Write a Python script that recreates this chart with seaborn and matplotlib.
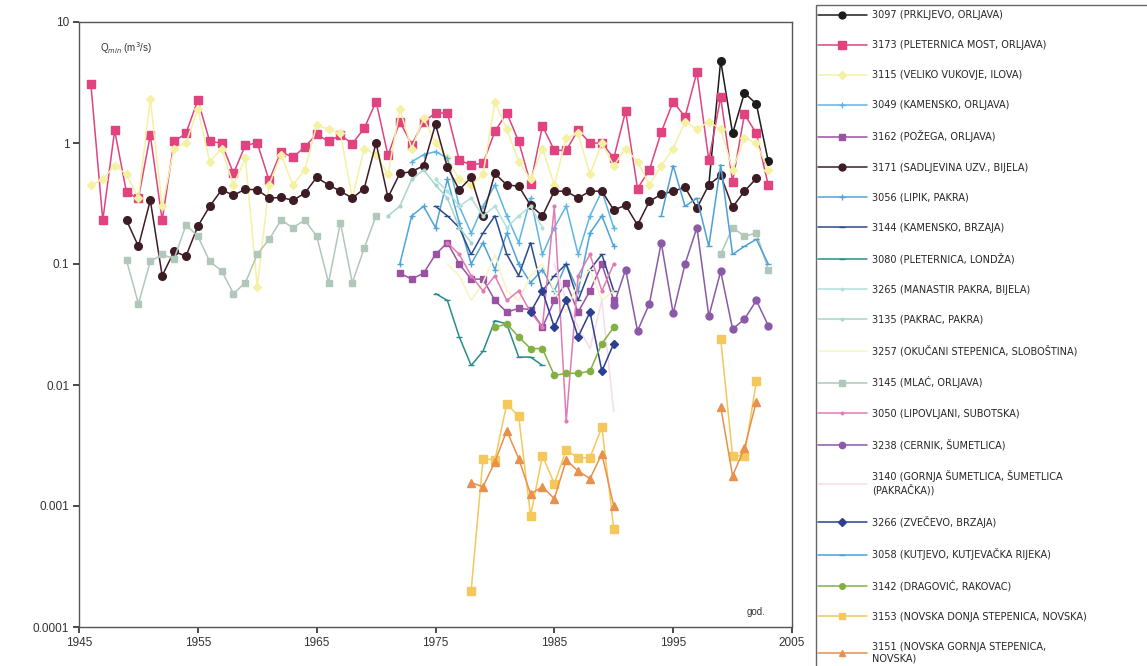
import numpy as np
import pandas as pd
import matplotlib
matplotlib.use("Agg")
import matplotlib.pyplot as plt
from matplotlib.lines import Line2D
from matplotlib.patches import Rectangle
import seaborn as sns

nan = np.nan

# Station codes, legend labels and drawing style
STATIONS = ["3097", "3173", "3115", "3049", "3162", "3171", "3056", "3144", "3080",
            "3265", "3135", "3257", "3145", "3050", "3238", "3140", "3266", "3058",
            "3142", "3153", "3151"]
LABELS = [
    "3097 (PRKLJEVO, ORLJAVA)",
    "3173 (PLETERNICA MOST, ORLJAVA)",
    "3115 (VELIKO VUKOVJE, ILOVA)",
    "3049 (KAMENSKO, ORLJAVA)",
    "3162 (POŽEGA, ORLJAVA)",
    "3171 (SADLJEVINA UZV., BIJELA)",
    "3056 (LIPIK, PAKRA)",
    "3144 (KAMENSKO, BRZAJA)",
    "3080 (PLETERNICA, LONDŽA)",
    "3265 (MANASTIR PAKRA, BIJELA)",
    "3135 (PAKRAC, PAKRA)",
    "3257 (OKUČANI STEPENICA, SLOBOŠTINA)",
    "3145 (MLAĆ, ORLJAVA)",
    "3050 (LIPOVLJANI, SUBOTSKA)",
    "3238 (CERNIK, ŠUMETLICA)",
    "3140 (GORNJA ŠUMETLICA, ŠUMETLICA\n(PAKRAČKA))",
    "3266 (ZVEČEVO, BRZAJA)",
    "3058 (KUTJEVO, KUTJEVAČKA RIJEKA)",
    "3142 (DRAGOVIĆ, RAKOVAC)",
    "3153 (NOVSKA DONJA STEPENICA, NOVSKA)",
    "3151 (NOVSKA GORNJA STEPENICA,\nNOVSKA)",
]
COLORS = ["#1c1c1c", "#e0437f", "#f5f1a2", "#5db6e2", "#9a52a2", "#3e1c24", "#4fa4d8",
          "#2b4b8c", "#2a8c8c", "#b2e0dc", "#a6d6cc", "#f7f4c0", "#b0c8ba", "#e27ab4",
          "#8a5aa8", "#f5dcea", "#2c3f92", "#4d9fd6", "#84b043", "#f4c85a", "#e8904c"]
MARKERS = ["o", "s", "D", "+", "s", "o", "+", "_", "_", ".", ".", "", "s", ".",
           "o", "", "D", "_", "o", "s", "^"]
SIZES = [5.5, 6, 4, 5, 5, 5.5, 5, 5, 5, 4, 4, 0, 5, 4, 5, 0, 4.5, 5, 4.5, 5.5, 5.5]

# Minimum annual discharge (m3/s); first year of each record, nan = no record
START_3097 = 1998
Q_3097 = [0.45, 4.8, 1.2, 2.6, 2.1, 0.71]

START_3173 = 1946
Q_3173 = [3.06, 0.23, 1.27, 0.39, 0.35, 1.16, 0.23, 1.03, 1.2, 2.26,
          1.03, 1.0, 0.56, 0.96, 1.0, 0.49, 0.85, 0.76, 0.93, 1.18,
          1.03, 1.16, 0.99, 1.32, 2.2, 0.79, 1.5, 0.97, 1.5, 1.77,
          1.77, 0.72, 0.66, 0.68, 1.25, 1.77, 1.03, 0.46, 1.38, 0.87,
          0.87, 1.28, 1.0, 1.0, 0.75, 1.83, 0.42, 0.6, 1.23, 2.2,
          1.64, 3.86, 0.72, 2.39, 0.48, 1.73, 1.2, 0.45]

START_3115 = 1946
Q_3115 = [0.45, 0.5, 0.65, 0.55, 0.35, 2.3, 0.3, 0.9, 1.0, 1.9,
          0.7, 0.9, 0.45, 0.75, 0.065, 0.45, 0.8, 0.45, 0.6, 1.4,
          1.3, 1.2, 0.35, 0.9, 0.8, 0.55, 1.9, 0.9, 1.6, 1.0,
          0.75, 0.5, 0.45, 0.55, 2.2, 1.3, 0.7, 0.5, 0.9, 0.45,
          1.1, 1.2, 0.55, 1.0, 0.65, 0.9, 0.7, 0.45, 0.65, 0.9,
          1.5, 1.3, 1.5, 1.3, 0.6, 1.1, 1.0, 0.6]

START_3049 = 1973
Q_3049 = [0.7, 0.8, 0.85, 0.75, 0.3, 0.18, 0.3, 0.45, 0.25, 0.15,
          0.35, 0.12, 0.2, 0.3, 0.12, 0.25, 0.4, 0.2]

START_3162 = 1972
Q_3162 = [0.084, 0.075, 0.084, 0.12, 0.15, 0.1, 0.075, 0.075, 0.05, 0.04,
          0.043, 0.042, 0.03, 0.05, 0.07, 0.04, 0.06, 0.1, 0.05]

START_3171 = 1949
Q_3171 = [0.23, 0.14, 0.336, 0.08, 0.127, 0.116, 0.205, 0.30, 0.41, 0.37,
          0.415, 0.41, 0.35, 0.355, 0.336, 0.385, 0.52, 0.45, 0.40, 0.35,
          0.42, 1.0, 0.355, 0.56, 0.58, 0.65, 1.43, 0.63, 0.41, 0.52,
          0.25, 0.56, 0.45, 0.44, 0.305, 0.25, 0.40, 0.40, 0.35, 0.40,
          0.40, 0.28, 0.305, 0.21, 0.33, 0.376, 0.40, 0.43, 0.29, 0.45,
          0.54, 0.295, 0.40, 0.51]

START_3056 = 1972
Q_3056 = [0.1, 0.25, 0.3, 0.2, 0.5, 0.22, 0.1, 0.15, 0.09, 0.18,
          0.1, 0.07, 0.09, 0.06, 0.1, 0.06, 0.18, 0.25, 0.14]

START_3144 = 1975
Q_3144 = [0.3, 0.25, 0.2, 0.12, 0.18, 0.25, 0.12, 0.08, 0.15, 0.06,
          0.08, 0.1, 0.05, 0.09, 0.12, 0.06]

START_3080 = 1975
Q_3080 = [0.057, 0.05, 0.025, 0.0145, 0.019, 0.034, 0.032, 0.017, 0.017, 0.0145]

START_3265 = 1975
Q_3265 = [0.5, 0.4, 0.3, 0.35, 0.25, 0.3, 0.2, 0.25, 0.3, 0.2]

START_3135 = 1971
Q_3135 = [0.25, 0.3, 0.5, 0.6, 0.45, 0.35, 0.2, 0.15]

START_3257 = 1976
Q_3257 = [0.1, 0.08, 0.05, 0.07, 0.12, 0.06, 0.05, 0.08, 0.1, 0.06,
          0.04, 0.07, 0.09, 0.05, 0.06]

START_3145 = 1949
Q_3145 = [0.107, 0.047, 0.105, 0.12, 0.11, 0.21, 0.17, 0.105, 0.088, 0.057,
          0.07, 0.12, 0.16, 0.23, 0.2, 0.23, 0.17, 0.07, 0.22, 0.07,
          0.135, 0.25, nan, nan, nan, nan, nan, nan, nan, nan,
          nan, nan, nan, nan, nan, nan, nan, nan, nan, nan,
          nan, nan, nan, nan, nan, nan, nan, nan, nan, nan,
          0.12, 0.2, 0.17, 0.18, 0.09]

START_3050 = 1976
Q_3050 = [0.15, 0.12, 0.08, 0.06, 0.08, 0.05, 0.06, 0.04, 0.03, 0.3,
          0.005, 0.08, 0.12, 0.06, 0.1]

START_3238 = 1990
Q_3238 = [0.046, 0.09, 0.028, 0.047, 0.15, 0.039, 0.1, 0.2, 0.037, 0.087,
          0.029, 0.035, 0.05, 0.031]

START_3140 = 1985
Q_3140 = [0.1, 0.05, 0.03, 0.02, 0.05, 0.006]

START_3266 = 1983
Q_3266 = [0.04, 0.06, 0.03, 0.05, 0.025, 0.04, 0.013, 0.022]

START_3058 = 1994
Q_3058 = [0.25, 0.65, 0.3, 0.35, 0.14, 0.66, 0.12, 0.14, 0.16, 0.1]

START_3142 = 1980
Q_3142 = [0.03, 0.032, 0.025, 0.02, 0.02, 0.012, 0.0125, 0.0125, 0.013, 0.022, 0.03]

START_3153 = 1978
Q_3153 = [0.0002, 0.00246, 0.0024, 0.007, 0.0055, 0.00083, 0.0026, 0.00153, 0.0029, 0.0025,
          0.0025, 0.0045, 0.00065, nan, nan, nan, nan, nan, nan, nan,
          nan, 0.024, 0.0026, 0.0026, 0.0107]

START_3151 = 1978
Q_3151 = [0.00156, 0.00144, 0.00232, 0.0042, 0.00246, 0.00126, 0.00144, 0.00115, 0.0024, 0.00195,
          0.00168, 0.0027, 0.001, nan, nan, nan, nan, nan, nan, nan,
          nan, 0.0066, 0.00178, 0.003, 0.0073]

SERIES = {
    "3097": (START_3097, Q_3097), "3173": (START_3173, Q_3173),
    "3115": (START_3115, Q_3115), "3049": (START_3049, Q_3049),
    "3162": (START_3162, Q_3162), "3171": (START_3171, Q_3171),
    "3056": (START_3056, Q_3056), "3144": (START_3144, Q_3144),
    "3080": (START_3080, Q_3080), "3265": (START_3265, Q_3265),
    "3135": (START_3135, Q_3135), "3257": (START_3257, Q_3257),
    "3145": (START_3145, Q_3145), "3050": (START_3050, Q_3050),
    "3238": (START_3238, Q_3238), "3140": (START_3140, Q_3140),
    "3266": (START_3266, Q_3266), "3058": (START_3058, Q_3058),
    "3142": (START_3142, Q_3142), "3153": (START_3153, Q_3153),
    "3151": (START_3151, Q_3151),
}

# Long-form table; a run of missing years splits a record into segments
rows = []
for code in STATIONS:
    start, vals = SERIES[code]
    seg = 0
    prev_nan = False
    for i, v in enumerate(vals):
        if v is None or (isinstance(v, float) and np.isnan(v)):
            prev_nan = True
            continue
        if prev_nan:
            seg += 1
            prev_nan = False
        rows.append({"station": code, "year": start + i, "q": v, "seg": seg})
df = pd.DataFrame(rows)

sns.set_theme(style="white")
plt.rcParams["font.family"] = ["Liberation Sans", "DejaVu Sans"]

fig = plt.figure(figsize=(11.47, 6.66), dpi=100)
ax = fig.add_axes([79 / 1147, 1 - 627 / 666, (792 - 79) / 1147, (627 - 22) / 666])

for code, color, mk, ms in zip(STATIONS, COLORS, MARKERS, SIZES):
    sub = df[df["station"] == code]
    sns.lineplot(data=sub, x="year", y="q", units="seg", estimator=None,
                 color=color, marker=mk if mk else None, markersize=ms,
                 markeredgecolor=color, markeredgewidth=1.0,
                 linewidth=1.1, ax=ax, legend=False, sort=True)

ax.set_yscale("log")
ax.set_ylim(1e-4, 10)
ax.set_xlim(1945, 2005)
ax.set_xticks([1945, 1955, 1965, 1975, 1985, 1995, 2005])
ax.set_yticks([1e-4, 1e-3, 1e-2, 1e-1, 1, 10])
ax.set_yticklabels(["0.0001", "0.001", "0.01", "0.1", "1", "10"])
ax.minorticks_off()
ax.set_xlabel("")
ax.set_ylabel("")
ax.tick_params(axis="both", labelsize=8.5, colors="#333333", length=4,
               direction="out", left=True, bottom=True, pad=3)
for side in ["left", "bottom", "top", "right"]:
    ax.spines[side].set_color("#555555")
    ax.spines[side].set_linewidth(1.0)

ax.text(0.03, 0.957, "Q$_{min}$ (m$^3$/s)", transform=ax.transAxes,
        fontsize=7, color="#333333", va="center")
ax.text(0.937, 0.025, "god.", transform=ax.transAxes, fontsize=7,
        color="#333333", va="center")

handles = [Line2D([0], [0], color=c, marker=(m if m else None), markersize=s,
                  markeredgecolor=c, linewidth=1.1)
           for c, m, s in zip(COLORS, MARKERS, SIZES)]
fig.legend(handles, LABELS, loc="upper left",
           bbox_to_anchor=(818 / 1147, 1 - 10 / 666), frameon=False,
           prop={"family": ["Liberation Sans Narrow", "DejaVu Sans"], "size": 7},
           handlelength=5.0, handletextpad=0.6, labelspacing=2.07,
           borderaxespad=0, borderpad=0, markerscale=0.9)
fig.patches.append(Rectangle((816 / 1147, -0.02), 0.3, 1 - 5 / 666 + 0.02,
                             transform=fig.transFigure, fill=False,
                             edgecolor="#666666", linewidth=1.0))

fig.savefig("out.png", dpi=100, facecolor="white")
